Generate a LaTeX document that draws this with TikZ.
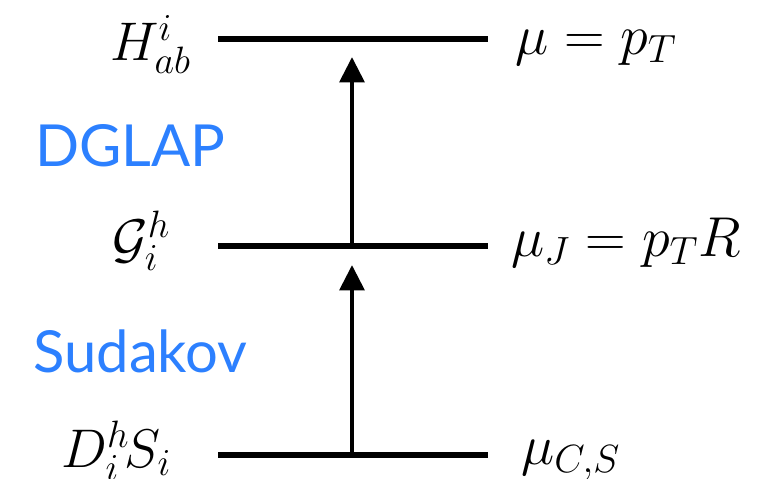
\RequirePackage{fix-cm}
\documentclass[tikz,border=0pt]{standalone}
\usepackage{fontspec}
\newfontfamily\labelfont{Lato}
\usepackage{xcolor}
\usetikzlibrary{arrows.meta,calc}
\definecolor{evolblue}{RGB}{44,128,255}

\begin{document}
\begin{tikzpicture}[x=0.02cm,y=-0.02cm,
    level/.style={line width=3.4pt},
    evol/.style={line width=2.7pt,-{Triangle[length=14.5pt,width=14pt]}},
    mathlab/.style={anchor=base west,inner sep=0pt,font=\fontsize{31}{37}\selectfont},
    scalelab/.style={mathlab,font=\fontsize{32}{38}\selectfont},
    evollab/.style={anchor=base west,inner sep=0pt,text=evolblue,font=\labelfont\fontsize{33}{40}\selectfont}]
  \useasboundingbox (0,0) rectangle (772,478);
  \foreach \n/\y/\lx/\ly/\lab/\rx/\ry/\scl in {
     hard/39/110/60/{$H^i_{ab}$}/515/54/{$\mu = p_T$},
     jet/246/112/257/{$\mathcal{G}^h_i$}/511/256/{$\mu_J = p_T R$},
     soft/455/61/467/{$D^h_i\mkern-1.5mu S_i$}/521/464/{$\mu_{C,S}$}}
  { \draw[level] (218,\y) coordinate (\n-l) -- (488,\y) coordinate (\n-r);
    \coordinate (\n-m) at (352,\y);
    \node[mathlab] (\n-lab) at (\lx,\ly) {\lab};
    \node[scalelab] (\n-scale) at (\rx,\ry) {\scl}; }
  % evolution between the scales
  \draw[evol] (soft-m) -- ($(jet-m)+(0,19)$);
  \draw[evol] (jet-m) -- ($(hard-m)+(0,18)$);
  \node[evollab] (dglap) at (35,166) {DGLAP};
  \node[evollab] (sudakov) at (33,372) {Sudakov};
\end{tikzpicture}
\end{document}
